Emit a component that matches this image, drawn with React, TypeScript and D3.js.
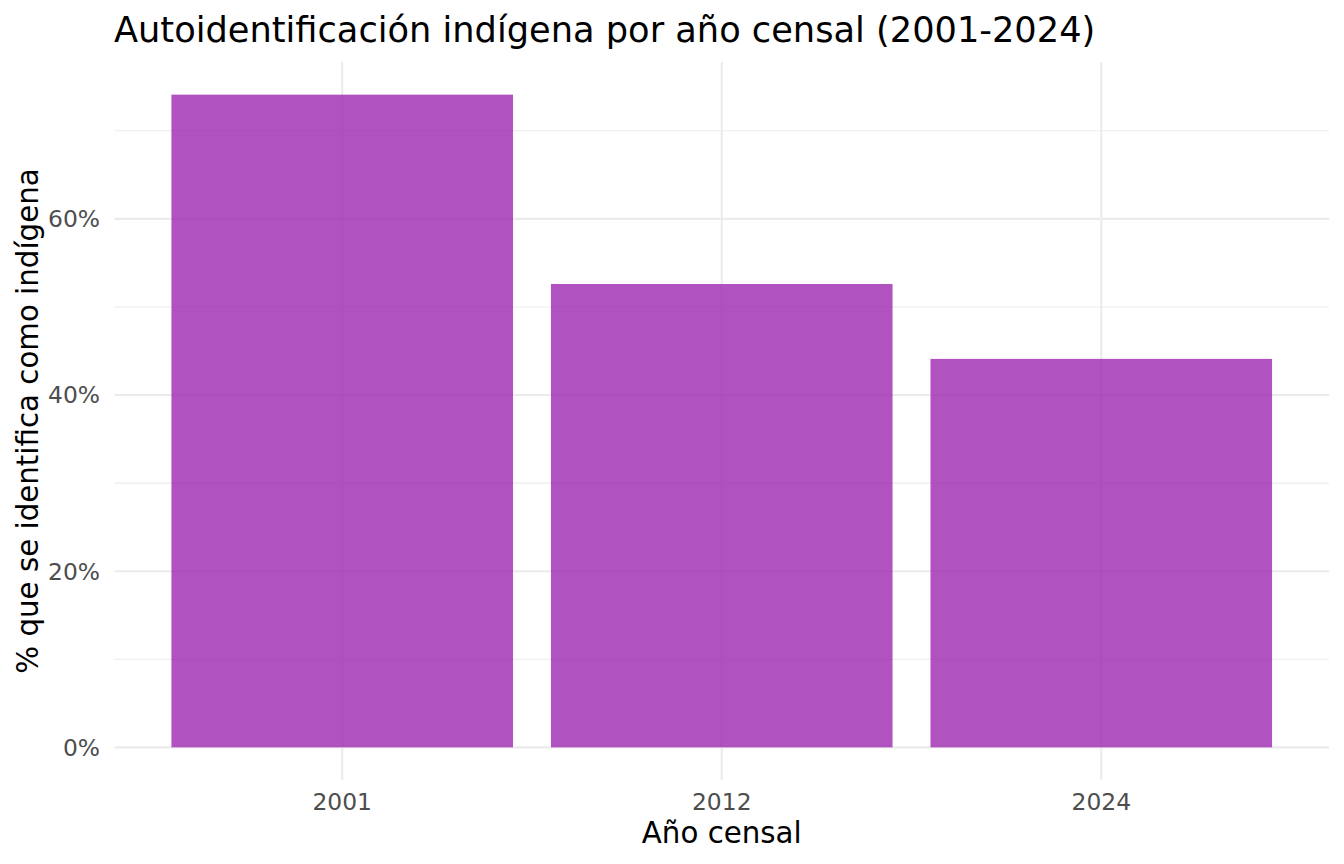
import React, { useEffect, useRef } from 'react';
import * as d3 from 'd3';

const years = ['2001', '2012', '2024'];
const shares = [74.1, 52.6, 44.1];
const majorTicks = [0, 20, 40, 60];
const minorTicks = [10, 30, 50, 70];

const W = 1344;
const H = 864;
const FONT = '"DejaVu Sans", Verdana, sans-serif';

const App: React.FC = () => {
  const svgRef = useRef<SVGSVGElement>(null);

  useEffect(() => {
    if (!svgRef.current) return;
    const svg = d3.select(svgRef.current);
    svg.selectAll('*').remove();

    const panel = { left: 114.5, right: 1329, top: 62, bottom: 780 };
    const maxV = d3.max(shares) as number;
    const pad = maxV * 0.05;

    const y = d3.scaleLinear()
      .domain([-pad, maxV + pad])
      .range([panel.bottom, panel.top]);

    // discrete axis, 0.6 unit expansion each side (ggplot style)
    const x = d3.scalePoint<string>()
      .domain(years)
      .range([panel.left, panel.right])
      .padding(0.6);
    const barW = x.step() * 0.9;

    const grid = svg.append('g');
    minorTicks.forEach(t => {
      grid.append('line')
        .attr('x1', panel.left).attr('x2', panel.right)
        .attr('y1', y(t)).attr('y2', y(t))
        .attr('stroke', '#EBEBEB').attr('stroke-width', 1.1);
    });
    majorTicks.forEach(t => {
      grid.append('line')
        .attr('x1', panel.left).attr('x2', panel.right)
        .attr('y1', y(t)).attr('y2', y(t))
        .attr('stroke', '#EBEBEB').attr('stroke-width', 2.1);
    });
    years.forEach(yr => {
      grid.append('line')
        .attr('x1', x(yr)!).attr('x2', x(yr)!)
        .attr('y1', panel.top).attr('y2', panel.bottom)
        .attr('stroke', '#EBEBEB').attr('stroke-width', 2.1);
    });

    svg.append('g')
      .selectAll('rect')
      .data(shares)
      .join('rect')
      .attr('x', (_, i) => x(years[i])! - barW / 2)
      .attr('width', barW)
      .attr('y', d => y(d))
      .attr('height', d => y(0) - y(d))
      .attr('fill', '#9C27B0')
      .attr('fill-opacity', 0.8);

    // y tick labels
    svg.append('g')
      .selectAll('text')
      .data(majorTicks)
      .join('text')
      .attr('x', 100)
      .attr('y', d => y(d))
      .attr('dy', '0.36em')
      .attr('text-anchor', 'end')
      .style('font-family', FONT)
      .style('font-size', '23.4px')
      .style('fill', '#4D4D4D')
      .text(d => `${d}%`);

    // x tick labels
    svg.append('g')
      .selectAll('text')
      .data(years)
      .join('text')
      .attr('x', d => x(d)!)
      .attr('y', 810)
      .attr('text-anchor', 'middle')
      .style('font-family', FONT)
      .style('font-size', '23.4px')
      .style('fill', '#4D4D4D')
      .text(d => d);

    svg.append('text')
      .attr('x', (panel.left + panel.right) / 2)
      .attr('y', 843)
      .attr('text-anchor', 'middle')
      .style('font-family', FONT)
      .style('font-size', '29.3px')
      .style('fill', '#000')
      .text('Año censal');

    svg.append('text')
      .attr('transform', `translate(38,${(panel.top + panel.bottom) / 2}) rotate(-90)`)
      .attr('text-anchor', 'middle')
      .style('font-family', FONT)
      .style('font-size', '29.3px')
      .style('fill', '#000')
      .text('% que se identifica como indígena');

    svg.append('text')
      .attr('x', 114)
      .attr('y', 41.5)
      .style('font-family', FONT)
      .style('font-size', '35.2px')
      .style('fill', '#000')
      .text('Autoidentificación indígena por año censal (2001-2024)');
  }, []);

  return (
    <svg ref={svgRef} width={W} height={H} style={{ display: 'block', position: 'absolute', left: 0, top: 0, background: '#fff' }} />
  );
};

export default App;
